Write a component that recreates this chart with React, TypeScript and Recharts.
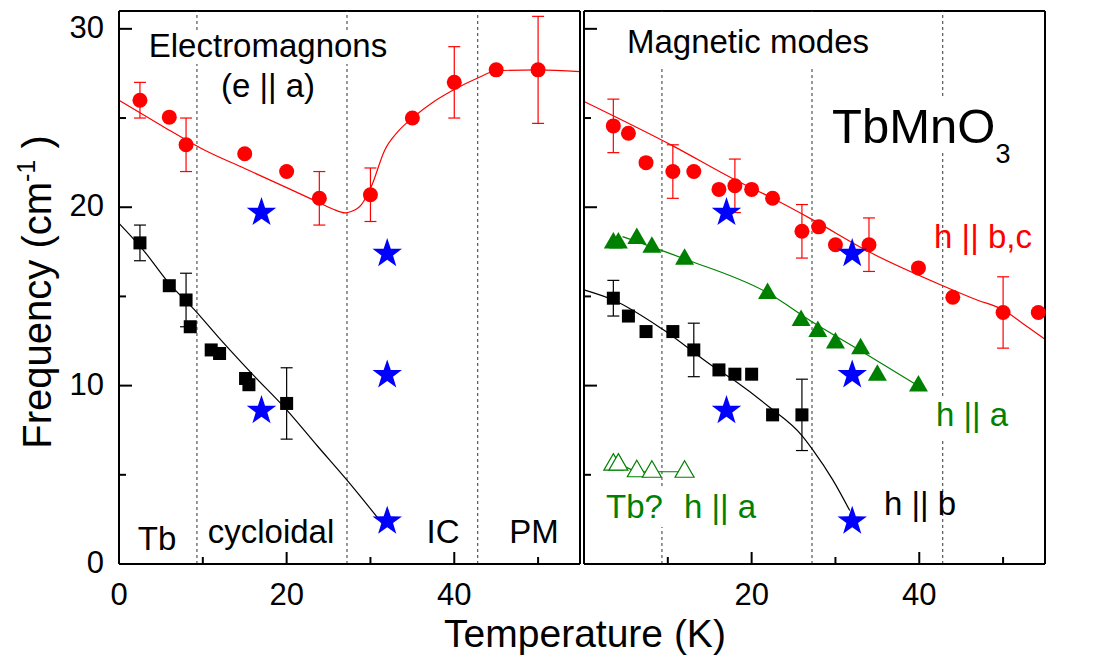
import {
  ComposedChart, Line, Scatter, XAxis, YAxis, ReferenceLine, ErrorBar,
} from 'recharts'

const FONT = '"Liberation Sans", Arial, Helvetica, sans-serif'
const RED = '#ff0000'
const GREEN = '#008000'
const BLUE = '#0000ff'
const AXIS = { stroke: '#000', strokeWidth: 2 }

/* ── axes ── */
const tDomain: [number, number] = [0, 55]
const tTicks = [0, 10, 20, 30, 40, 50]
const fDomain: [number, number] = [0, 31]
const fTicks = [0, 5, 10, 15, 20, 25, 30]
// Tb ordering, lock-in, Neel temperature
const transitions = [9.3, 27.2, 42.8]

/* ── electromagnons (e || a) ── */
const emUpT = [2.5, 6, 8, 15, 20, 23.9, 30, 35, 40, 45, 50]
const emUpF = [26.0, 25.05, 23.5, 23.0, 22.0, 20.5, 20.7, 25.0, 27.0, 27.7, 27.7]
const emUpErr = [1, 0, 1.5, 0, 0, 1.5, 1.5, 0, 2, 0, 3]

const emLowT = [2.5, 6, 8, 8.5, 11, 12, 15.1, 15.5, 20]
const emLowF = [18.0, 15.6, 14.8, 13.3, 12.0, 11.8, 10.4, 10.05, 9.0]
const emLowErr = [1, 0, 1.5, 0, 0, 0, 0, 0, 2]

const emUpFitT = [0, 5, 10, 15, 20, 24, 25.5, 27, 27.7, 28.9, 30.1, 31.7, 33.3, 35, 37.5, 40, 42.8, 45, 50, 55]
const emUpFitF = [26.0, 24.6, 23.25, 22.17, 21.1, 20.23, 19.9, 19.68, 19.76, 20.13, 21.16, 23.2, 24.25, 25.0, 25.9, 26.6, 27.24, 27.65, 27.7, 27.6]

const emLowFitT = [0, 2.9, 5.85, 9.2, 11.8, 15.8, 20, 23.7, 27.2, 31.7]
const emLowFitF = [19.1, 17.6, 15.8, 14.15, 12.75, 10.7, 8.64, 6.6, 4.7, 2.1]

/* ── stars, same in both panels ── */
const starT = [17, 17, 32, 32, 32]
const starF = [19.7, 8.6, 17.4, 10.6, 2.4]

/* ── magnetic modes ── */
const hbcT = [3.5, 5.3, 7.4, 10.6, 13.1, 16.1, 18, 20, 22.5, 26, 28, 30, 34, 39.9, 44, 50, 54.2]
const hbcF = [24.56, 24.15, 22.5, 22.0, 22.0, 21.0, 21.2, 21.0, 20.5, 18.65, 18.9, 17.9, 17.9, 16.6, 14.95, 14.1, 14.1]
const hbcErr = [1.5, 0, 0, 1.5, 0, 0, 1.5, 0, 0, 1.5, 0, 0, 1.5, 0, 0, 2, 0]
const hbcFitT = [0, 10.6, 18, 22.5, 27.3, 34, 42.8, 46.9, 50, 52.3, 55]
const hbcFitF = [25.93, 23.44, 21.54, 20.5, 19.29, 17.5, 15.6, 14.8, 14.25, 13.5, 12.6]

const hbT = [3.5, 5.3, 7.4, 10.6, 13.1, 16.1, 18, 20, 22.5, 26]
const hbF = [14.9, 13.9, 13.03, 13.03, 12.0, 10.88, 10.64, 10.64, 8.36, 8.36]
const hbErr = [1, 0, 0, 0, 1.5, 0, 0, 0, 0, 2]
const hbFitT = [0, 3.5, 9.25, 15.4, 18.2, 22.1, 26, 27.3, 29.7, 31.7]
const hbFitF = [15.37, 14.8, 13.2, 11.07, 10.2, 8.8, 7.2, 6.4, 4.7, 3.0]

const haT = [3.5, 4.1, 6.3, 8.1, 12, 21.9, 25.9, 27.9, 30, 33, 35, 39.9]
const haF = [18.0, 18.0, 18.25, 17.75, 17.09, 15.16, 13.65, 13.04, 12.39, 12.07, 10.58, 9.98]
const haFitT = [4.6, 12, 21.9, 27.3, 33, 39.9]
const haFitF = [18.35, 17.1, 15.2, 13.55, 11.95, 9.98]

// weak Tb modes, h || a (open triangles)
const tbT = [3.5, 4.1, 6.3, 8.1, 12]
const tbF = [5.57, 5.57, 5.2, 5.17, 5.17]

type Pt = { x: number; y: number; err: number }
function pts(t: number[], f: number[], e?: number[]): Pt[] {
  return t.map((x, i) => ({ x, y: f[i], err: e ? e[i] : 0 }))
}

const emUp = pts(emUpT, emUpF, emUpErr)
const emLow = pts(emLowT, emLowF, emLowErr)
const emUpFit = pts(emUpFitT, emUpFitF)
const emLowFit = pts(emLowFitT, emLowFitF)
const stars = pts(starT, starF)
const hbc = pts(hbcT, hbcF, hbcErr)
const hbcFit = pts(hbcFitT, hbcFitF)
const hb = pts(hbT, hbF, hbErr)
const hbFit = pts(hbFitT, hbFitF)
const ha = pts(haT, haF)
const haFit = pts(haFitT, haFitF)
const tb = pts(tbT, tbF)

/* ── symbols ── */

function Dot(p: any) {
  return <circle cx={p.cx} cy={p.cy} r={7.5} fill={RED} />
}
function Sq(p: any) {
  return <rect x={p.cx - 6.5} y={p.cy - 6.5} width={13} height={13} fill="#000" />
}
// triangle centred on its centroid
function triPoints(cx: number, cy: number) {
  const w = 9.5, h = 16.5
  return `${cx},${cy - (h * 2) / 3} ${cx + w},${cy + h / 3} ${cx - w},${cy + h / 3}`
}
function Tri(p: any) {
  return <polygon points={triPoints(p.cx, p.cy)} fill={GREEN} />
}
function OpenTri(p: any) {
  return <polygon points={triPoints(p.cx, p.cy)} fill="#fff" stroke={GREEN} strokeWidth={1.2} />
}
function Star(p: any) {
  const R = 15.5, r = 6.1
  const v: string[] = []
  for (let i = 0; i < 10; i++) {
    const a = -Math.PI / 2 + (i * Math.PI) / 5
    const rad = i % 2 ? r : R
    v.push(`${p.cx + rad * Math.cos(a)},${p.cy + rad * Math.sin(a)}`)
  }
  return <polygon points={v.join(' ')} fill={BLUE} />
}

/* ── ticks (drawn inward, Origin style) ── */

function TTick({ x, y, payload, showZero }: any) {
  const v = payload.value as number
  const major = v % 20 === 0
  const label = major && (showZero || v !== 0)
  return (
    <g>
      <line x1={x} y1={y} x2={x} y2={y - (major ? 12 : 7)} stroke="#000" strokeWidth={2} />
      {label && (
        <text x={x} y={y + 41} textAnchor="middle" fontSize={31} fontFamily={FONT} fill="#000">{v}</text>
      )}
    </g>
  )
}

function FTick({ x, y, payload, dir, label }: any) {
  const v = payload.value as number
  const major = v % 10 === 0
  return (
    <g>
      <line x1={x} y1={y} x2={x + dir * (major ? 13 : 7)} y2={y} stroke="#000" strokeWidth={2} />
      {label && major && (
        <text x={x - dir * 15} y={y + 9} textAnchor={dir > 0 ? 'end' : 'start'} fontSize={31} fontFamily={FONT} fill="#000">{v}</text>
      )}
    </g>
  )
}

function axes(isLeft: boolean) {
  return [
    <XAxis key="xb" xAxisId="b" dataKey="x" type="number" domain={tDomain} ticks={tTicks} interval={0}
      height={60} axisLine={AXIS} tickLine={false} tickSize={0} tickMargin={0}
      tick={(p: any) => <TTick {...p} showZero={isLeft} />} />,
    <YAxis key="yl" yAxisId="l" dataKey="y" type="number" domain={fDomain} ticks={fTicks} interval={0}
      width={isLeft ? 119 : 2} axisLine={AXIS} tickLine={false} tickSize={0} tickMargin={0}
      tick={(p: any) => <FTick {...p} dir={1} label={isLeft} />} />,
    <YAxis key="yr" yAxisId="r" orientation="right" dataKey="y" type="number" domain={fDomain} ticks={fTicks} interval={0}
      width={isLeft ? 2 : 59} axisLine={AXIS} tickLine={false} tickSize={0} tickMargin={0}
      tick={isLeft ? false : (p: any) => <FTick {...p} dir={-1} label />} />,
    // top edge of the frame
    <ReferenceLine key="top" y={fDomain[1]} xAxisId="b" yAxisId="l" stroke="#000" strokeWidth={2} />,
    ...transitions.map((t) => (
      <ReferenceLine key={'tr' + t} x={t} xAxisId="b" yAxisId="l" stroke="#333" strokeWidth={1} strokeDasharray="3 3" />
    )),
  ]
}

function fit(data: Pt[], color: string, key: string) {
  return (
    <Line key={key} data={data} dataKey="y" xAxisId="b" yAxisId="l" type="monotone"
      stroke={color} strokeWidth={1.2} dot={false} activeDot={false} isAnimationActive={false} />
  )
}

function ElectromagnonPanel() {
  return (
    <ComposedChart width={582} height={655} margin={{ top: 11, right: 0, bottom: 31, left: 0 }}>
      {axes(true)}
      {fit(emUpFit, RED, 'fu')}
      {fit(emLowFit, '#000', 'fl')}
      <Scatter data={emUp} dataKey="y" xAxisId="b" yAxisId="l" shape={Dot} isAnimationActive={false}>
        <ErrorBar dataKey="err" direction="y" width={6} stroke={RED} strokeWidth={1.2} />
      </Scatter>
      <Scatter data={emLow} dataKey="y" xAxisId="b" yAxisId="l" shape={Sq} isAnimationActive={false}>
        <ErrorBar dataKey="err" direction="y" width={6} stroke="#000" strokeWidth={1.2} />
      </Scatter>
      <Scatter data={stars} dataKey="y" xAxisId="b" yAxisId="l" shape={Star} isAnimationActive={false} />
    </ComposedChart>
  )
}

function MagnonPanel() {
  return (
    <ComposedChart width={522} height={655} margin={{ top: 11, right: 0, bottom: 31, left: 0 }}>
      {axes(false)}
      {fit(hbcFit, RED, 'fbc')}
      {fit(hbFit, '#000', 'fb')}
      {fit(haFit, GREEN, 'fa')}
      {fit(tb, GREEN, 'ftb')}
      <Scatter data={hbc} dataKey="y" xAxisId="b" yAxisId="l" shape={Dot} isAnimationActive={false}>
        <ErrorBar dataKey="err" direction="y" width={6} stroke={RED} strokeWidth={1.2} />
      </Scatter>
      <Scatter data={ha} dataKey="y" xAxisId="b" yAxisId="l" shape={Tri} isAnimationActive={false} />
      <Scatter data={tb} dataKey="y" xAxisId="b" yAxisId="l" shape={OpenTri} isAnimationActive={false} />
      <Scatter data={hb} dataKey="y" xAxisId="b" yAxisId="l" shape={Sq} isAnimationActive={false}>
        <ErrorBar dataKey="err" direction="y" width={6} stroke="#000" strokeWidth={1.2} />
      </Scatter>
      <Scatter data={stars} dataKey="y" xAxisId="b" yAxisId="l" shape={Star} isAnimationActive={false} />
    </ComposedChart>
  )
}

// captions; white boxes behind some of them cut the dotted transition lines
function Captions() {
  return (
    <svg width={1104} height={655} style={{ position: 'absolute', left: 0, top: 0, pointerEvents: 'none' }}>
      <g fontFamily={FONT} fill="#000">
        <rect x={143} y={32} width={252} height={32} fill="#fff" />
        <text x={268} y={57} textAnchor="middle" fontSize={33}>Electromagnons</text>
        <text x={268} y={97} textAnchor="middle" fontSize={33}>(e || a)</text>

        <text x={157} y={550} textAnchor="middle" fontSize={33}>Tb</text>
        <text x={271} y={543} textAnchor="middle" fontSize={33}>cycloidal</text>
        <text x={443} y={543} textAnchor="middle" fontSize={33}>IC</text>
        <text x={534} y={543} textAnchor="middle" fontSize={33}>PM</text>

        <rect x={618} y={13} width={262} height={55} fill="#fff" />
        <text x={748} y={53} textAnchor="middle" fontSize={33}>Magnetic modes</text>

        <rect x={826} y={97} width={196} height={56} fill="#fff" />
        <text x={832} y={143} fontSize={49}>TbMnO<tspan fontSize={27} dy={20}>3</tspan></text>

        <text x={983} y={248} textAnchor="middle" fontSize={33} fill={RED}>h || b,c</text>
        <rect x={932} y={398} width={80} height={42} fill="#fff" />
        <text x={972} y={426} textAnchor="middle" fontSize={33} fill={GREEN}>h || a</text>
        <text x={920} y={515} textAnchor="middle" fontSize={33}>h || b</text>

        <rect x={600} y={488} width={162} height={39} fill="#fff" />
        <text x={606} y={518} fontSize={33} fill={GREEN}>Tb?</text>
        <text x={720} y={518} textAnchor="middle" fontSize={33} fill={GREEN}>h || a</text>

        <text x={585} y={647} textAnchor="middle" fontSize={39}>Temperature (K)</text>
        <text transform="translate(51,292) rotate(-90)" textAnchor="middle" fontSize={40}>
          Frequency (cm<tspan fontSize={25} dy={-16}>-1</tspan><tspan dy={16}> )</tspan>
        </text>
      </g>
    </svg>
  )
}

export default function App() {
  return (
    <div style={{ position: 'absolute', left: 0, top: 0, width: 1104, height: 655, background: '#fff', overflow: 'hidden' }}>
      <div style={{ position: 'absolute', left: 0, top: 0 }}>
        <ElectromagnonPanel />
      </div>
      <div style={{ position: 'absolute', left: 582, top: 0 }}>
        <MagnonPanel />
      </div>
      <Captions />
    </div>
  )
}
